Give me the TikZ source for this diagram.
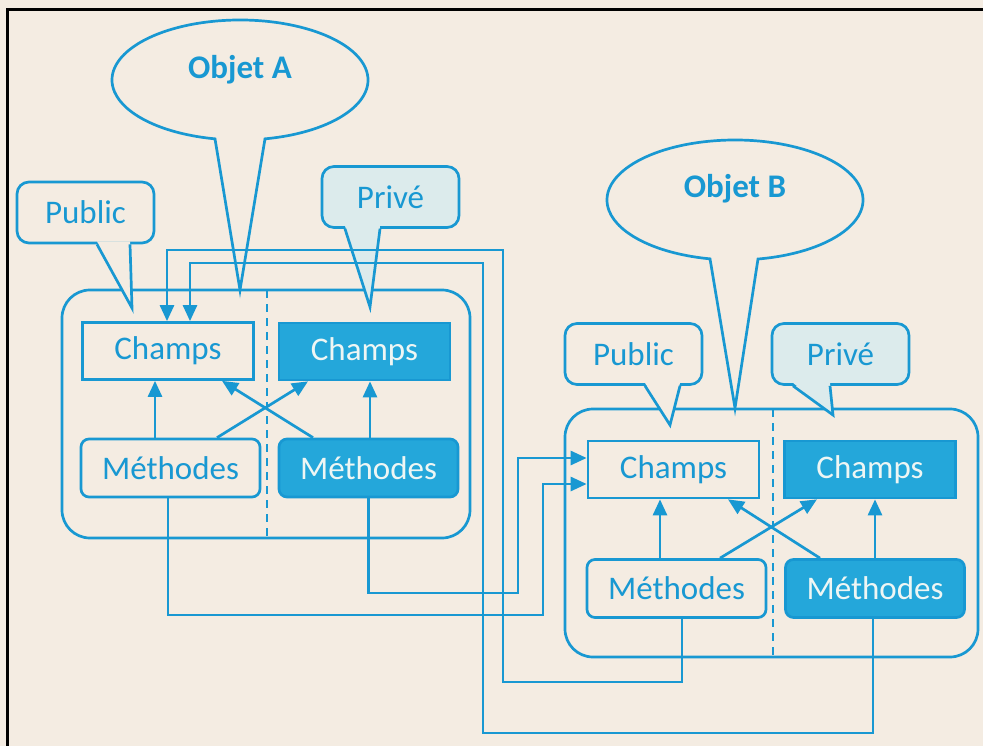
\documentclass[tikz,border=0pt]{standalone}
\usepackage{fontspec}
\setmainfont{Carlito}
\usetikzlibrary{arrows.meta,calc}

\definecolor{paper}{HTML}{F4ECE2}
\definecolor{ink}{HTML}{1898D2}
\definecolor{deep}{HTML}{24A7DA}
\definecolor{pale}{HTML}{DCEBEC}
\definecolor{boxtext}{HTML}{EEF6F4}

\begin{document}
\begin{tikzpicture}[x=1pt,y=-1pt,
  wire/.style={draw=ink,line width=2.7pt},
  arr/.style={wire,-{Triangle[length=16pt,width=14pt]}},
  txt/.style={font=\fontsize{33}{38}\selectfont,text=ink},
  headtxt/.style={font=\fontsize{33}{38}\selectfont\bfseries,text=ink},
  openfield/.style={draw=ink,line width=2.7pt,fill=paper,txt,inner sep=0pt,
    minimum width=171pt,minimum height=57pt},
  darkfield/.style={openfield,fill=deep,text=boxtext},
  openmeth/.style={openfield,rounded corners=8pt,minimum width=179pt,minimum height=58pt},
  darkmeth/.style={openmeth,fill=deep,text=boxtext},
  tag/.style={draw=ink,line width=2.7pt,fill=paper,rounded corners=12pt,txt,
    inner sep=0pt,minimum width=137pt,minimum height=61pt},
  privtag/.style={tag,fill=pale},
  shell/.style={draw=ink,line width=2.7pt,rounded corners=28pt},
  divider/.style={draw=ink,line width=2.7pt,dash pattern=on 8pt off 6pt}
]
\useasboundingbox (0,0) rectangle (983,746);
\fill[paper] (0,0) rectangle (983,746);
\draw[line width=3pt] (7,746) -- (7,10) -- (983,10);

% ---------- object containers ----------
\draw[shell] (62,290) rectangle (470,538);
\draw[divider] (267,290) -- (267,538);
\draw[shell] (565,409) rectangle (978,657);
\draw[divider] (773,409) -- (773,657);

% ---------- speech bubbles: object names ----------
\coordinate (tipA) at (240,290);
\draw[wire,fill=paper] (240,80) ++(78.74:128 and 60)
  arc[start angle=78.74,end angle=-258.74,x radius=128,y radius=60]
  -- (tipA) -- cycle;
\node[headtxt] (objA) at (240,70) {Objet A};

\coordinate (tipB) at (735,408);
\draw[wire,fill=paper] (735,200) ++(79.65:128 and 60)
  arc[start angle=79.65,end angle=-258.74,x radius=128,y radius=60]
  -- (tipB) -- cycle;
\node[headtxt] (objB) at (735,189) {Objet B};

% ---------- speech bubbles: visibility ----------
\node[tag] (pubA) at (85.5,212.5) {Public};
\coordinate (tipPubA) at (132,308);
\fill[paper] ([xshift=11.5pt,yshift=3pt]pubA.south) -- (tipPubA) -- ([xshift=44.5pt,yshift=3pt]pubA.south) -- cycle;
\draw[wire,line join=miter] ([xshift=11.5pt]pubA.south) -- (tipPubA) -- ([xshift=44.5pt]pubA.south);

\node[privtag] (privA) at (390.5,197) {Privé};
\coordinate (tipPrivA) at (370,307);
\fill[pale] ([xshift=-45.5pt,yshift=3pt]privA.south) -- (tipPrivA) -- ([xshift=-10.5pt,yshift=3pt]privA.south) -- cycle;
\draw[wire,line join=miter] ([xshift=-45.5pt]privA.south) -- (tipPrivA) -- ([xshift=-10.5pt]privA.south);

\node[tag] (pubB) at (633.5,354) {Public};
\coordinate (tipPubB) at (670,425);
\fill[paper] ([xshift=11.5pt,yshift=3pt]pubB.south) -- (tipPubB) -- ([xshift=46.5pt,yshift=3pt]pubB.south) -- cycle;
\draw[wire,line join=miter] ([xshift=11.5pt]pubB.south) -- (tipPubB) -- ([xshift=46.5pt]pubB.south);

\node[privtag] (privB) at (840.5,354) {Privé};
\coordinate (tipPrivB) at (833,415);
\fill[pale] ([xshift=-47.5pt,yshift=3pt]privB.south) -- (tipPrivB) -- ([xshift=-10.5pt,yshift=3pt]privB.south) -- cycle;
\draw[wire,line join=miter] ([xshift=-47.5pt]privB.south) -- (tipPrivB) -- ([xshift=-10.5pt]privB.south);

% ---------- members of object A ----------
\node[openfield] (cApub)  at (168,351)   {Champs};
\node[darkfield] (cApriv) at (364.5,351.5) {Champs};
\node[openmeth]  (mApub)  at (170.5,468) {Méthodes};
\node[darkmeth]  (mApriv) at (368.5,468) {Méthodes};

\draw[arr] ([xshift=-15.5pt]mApub.north) -- ([xshift=-15.5pt]mApub.north |- cApub.south);
\draw[arr] ([xshift=1.5pt]mApriv.north) -- ([xshift=1.5pt]mApriv.north |- cApriv.south);
\draw[arr] ([xshift=46.5pt]mApub.north) -- ([xshift=-56.5pt]cApriv.south);
\draw[arr] ([xshift=-55.5pt]mApriv.north) -- ([xshift=54pt]cApub.south);

% ---------- members of object B ----------
\node[openfield] (cBpub)  at (673.5,469.5) {Champs};
\node[darkfield] (cBpriv) at (870,469.5)   {Champs};
\node[openmeth]  (mBpub)  at (676.5,588.5) {Méthodes};
\node[darkmeth]  (mBpriv) at (875,588.5)   {Méthodes};

\draw[arr] ([xshift=-16.5pt]mBpub.north) -- ([xshift=-16.5pt]mBpub.north |- cBpub.south);
\draw[arr] (mBpriv.north) -- (mBpriv.north |- cBpriv.south);
\draw[arr] ([xshift=43.5pt]mBpub.north) -- ([xshift=-53pt]cBpriv.south);
\draw[arr] ([xshift=-55pt]mBpriv.north) -- ([xshift=54.5pt]cBpub.south);

% ---------- calls between the two objects ----------
\draw[arr] ([xshift=5.5pt]mBpub.south) |- (503,682) |- (167,250)
  -- ([xshift=-1pt]cApub.north);
\draw[arr] ([xshift=-2pt]mBpriv.south) |- (483,733) |- (190,263)
  -- ([xshift=22pt]cApub.north);
\draw[arr] (mApriv.south) |- (518,593) |- ([yshift=11.5pt]cBpub.west);
\draw[arr] ([xshift=-2.5pt]mApub.south) |- (543,615) |- ([yshift=-14.5pt]cBpub.west);
\end{tikzpicture}
\end{document}
